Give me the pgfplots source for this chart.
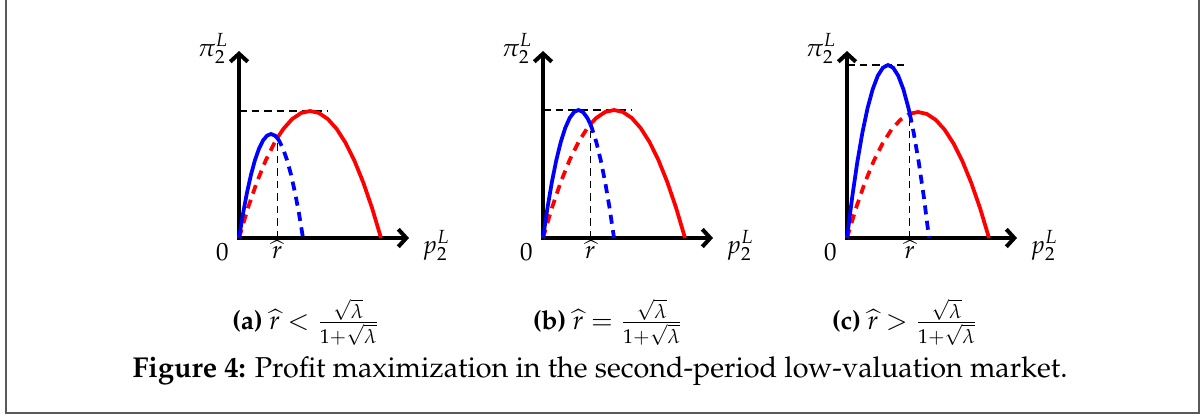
\documentclass[border=0pt]{standalone}
\usepackage[T1]{fontenc}
\usepackage{mathpazo}
\usepackage{pgfplots}
\pgfplotsset{compat=1.18}
\usepackage{pgfplotstable}
\usetikzlibrary{arrows.meta}

% Profit curves pi_2^L(p_2^L); each table carries the crossing point at r-hat.
% Panel (a): r-hat = 38.27
\pgfplotstableread{
x y
0 0
8.875 29.77
17.75 55.56
26.625 77.39
35.5 95.25
38.27 100.0
44.375 109.14
53.25 119.06
62.125 125.02
71 127
79.875 125.02
88.75 119.06
97.625 109.14
106.5 95.25
115.375 77.39
124.25 55.56
133.125 29.77
142 0
}\redA
\pgfplotstableread{
x y
0 0
4 24.375
8 45.5
12 63.375
16 78
20 89.375
24 97.5
28 102.375
32 104
36 102.375
38.27 100.0
40 97.5
44 89.375
48 78
52 63.375
56 45.5
60 24.375
64 0
}\blueA
% Panel (b): r-hat = 47.33
\pgfplotstableread{
x y
0 0
8.875 30
17.75 56
26.625 78
35.5 96
44.375 110
47.33 113.8
53.25 120
62.125 126
71 128
79.875 126
88.75 120
97.625 110
106.5 96
115.375 78
124.25 56
133.125 30
142 0
}\redB
\pgfplotstableread{
x y
0 0
4.4375 30
8.875 56
13.3125 78
17.75 96
22.1875 110
26.625 120
31.0625 126
35.5 128
39.9375 126
44.375 120
47.33 113.8
48.8125 110
53.25 96
57.6875 78
62.125 56
66.5625 30
71 0
}\blueB
% Panel (c): r-hat = 62.75
\pgfplotstableread{
x y
0 0
8.875 29.53
17.75 55.13
26.625 76.78
35.5 94.5
44.375 108.28
53.25 118.13
62.125 124.03
62.75 124.3
71 126
79.875 124.03
88.75 118.13
97.625 108.28
106.5 94.5
115.375 76.78
124.25 55.13
133.125 29.53
142 0
}\redC
\pgfplotstableread{
x y
0 0
5.125 40.55
10.25 75.69
15.375 105.42
20.5 129.75
25.625 148.67
30.75 162.19
35.875 170.30
41 173
46.125 170.30
51.25 162.19
56.375 148.67
61.5 129.75
62.75 124.3
66.625 105.42
71.75 75.69
76.875 40.55
82 0
}\blueC

\pgfplotsset{
  panel/.style={
    scale only axis, width=68pt, height=74.8pt,
    xmin=0, xmax=170, ymin=0, ymax=187,
    axis lines=left,
    axis line style={line width=1.6pt, line cap=rect,
      -{Straight Barb[length=3.2pt,width=7pt]}},
    xtick=\empty, ytick=\empty, clip=false,
  },
  curve/.style={line width=1.5pt, no marks},
  dcurve/.style={line width=1.5pt, no marks, dash pattern=on 3.6pt off 2.6pt},
  guide/.style={black, line width=0.55pt, dash pattern=on 3pt off 2pt, no marks},
}
\tikzset{lab/.style={inner sep=0pt}}
\newcommand\subcap{\fontsize{10.5}{12.6}\selectfont}
\newcommand\figcap{\fontsize{11.5}{14}\selectfont}

\begin{document}
\begin{tikzpicture}[x=0.4pt,y=0.4pt]
\useasboundingbox (0,0) rectangle (1203,416);
\draw[black!65, line width=0.6pt] (6,430) -- (6,3) -- (1199,3) -- (1199,430);

% (a)
\begin{axis}[panel, at={(95.6pt,71.2pt)}]
  \addplot[guide] coordinates {(0,127) (89,127)};
  \addplot[guide] coordinates {(38.27,0) (38.27,100)};
  \addplot[red, dcurve, restrict x to domain=0:38.28] table {\redA};
  \addplot[red, curve, restrict x to domain=38.26:200] table {\redA};
  \addplot[blue, curve, restrict x to domain=0:38.28] table {\blueA};
  \addplot[blue, dcurve, restrict x to domain=38.26:200] table {\blueA};
  \node[lab, anchor=north east, xshift=-4pt, yshift=-2pt] at (axis cs:0,0) {$0$};
  \node[lab, anchor=north, yshift=-0.8pt] at (axis cs:38.27,0) {$\widehat{r}$};
  \node[lab, anchor=base east, xshift=-4pt, yshift=-2pt] at (axis cs:0,187) {$\pi_2^L$};
  \node[lab, anchor=base west, xshift=5.2pt, yshift=-6pt] at (axis cs:170,0) {$p_2^L$};
\end{axis}

% (b)
\begin{axis}[panel, at={(217.2pt,71.2pt)}]
  \addplot[guide] coordinates {(0,128) (89,128)};
  \addplot[guide] coordinates {(47.33,0) (47.33,113.8)};
  \addplot[red, dcurve, restrict x to domain=0:47.34] table {\redB};
  \addplot[red, curve, restrict x to domain=47.32:200] table {\redB};
  \addplot[blue, curve, restrict x to domain=0:47.34] table {\blueB};
  \addplot[blue, dcurve, restrict x to domain=47.32:200] table {\blueB};
  \node[lab, anchor=north east, xshift=-4pt, yshift=-2pt] at (axis cs:0,0) {$0$};
  \node[lab, anchor=north, yshift=-0.8pt] at (axis cs:47.33,0) {$\widehat{r}$};
  \node[lab, anchor=base east, xshift=-4pt, yshift=-2pt] at (axis cs:0,187) {$\pi_2^L$};
  \node[lab, anchor=base west, xshift=5.2pt, yshift=-6pt] at (axis cs:170,0) {$p_2^L$};
\end{axis}

% (c)
\begin{axis}[panel, at={(338.8pt,71.2pt)}]
  \addplot[guide] coordinates {(0,173) (57,173)};
  \addplot[guide] coordinates {(62.75,0) (62.75,124.3)};
  \addplot[red, dcurve, restrict x to domain=0:62.76] table {\redC};
  \addplot[red, curve, restrict x to domain=62.74:200] table {\redC};
  \addplot[blue, curve, restrict x to domain=0:62.76] table {\blueC};
  \addplot[blue, dcurve, restrict x to domain=62.74:200] table {\blueC};
  \node[lab, anchor=north east, xshift=-4pt, yshift=-2pt] at (axis cs:0,0) {$0$};
  \node[lab, anchor=north, yshift=-0.8pt] at (axis cs:62.75,0) {$\widehat{r}$};
  \node[lab, anchor=base east, xshift=-4pt, yshift=-2pt] at (axis cs:0,187) {$\pi_2^L$};
  \node[lab, anchor=base west, xshift=5.2pt, yshift=-6pt] at (axis cs:170,0) {$p_2^L$};
\end{axis}

% sub-captions and caption
\node[anchor=base] at (306,87) {\subcap\textbf{(a)} $\widehat{r} < \frac{\sqrt{\lambda}}{1+\sqrt{\lambda}}$};
\node[anchor=base] at (608,87) {\subcap\textbf{(b)} $\widehat{r} = \frac{\sqrt{\lambda}}{1+\sqrt{\lambda}}$};
\node[anchor=base] at (905,87) {\subcap\textbf{(c)} $\widehat{r} > \frac{\sqrt{\lambda}}{1+\sqrt{\lambda}}$};
\node[anchor=base] at (600,39) {\figcap\textbf{Figure 4:} Profit maximization in the second-period low-valuation market.};
\end{tikzpicture}
\end{document}
